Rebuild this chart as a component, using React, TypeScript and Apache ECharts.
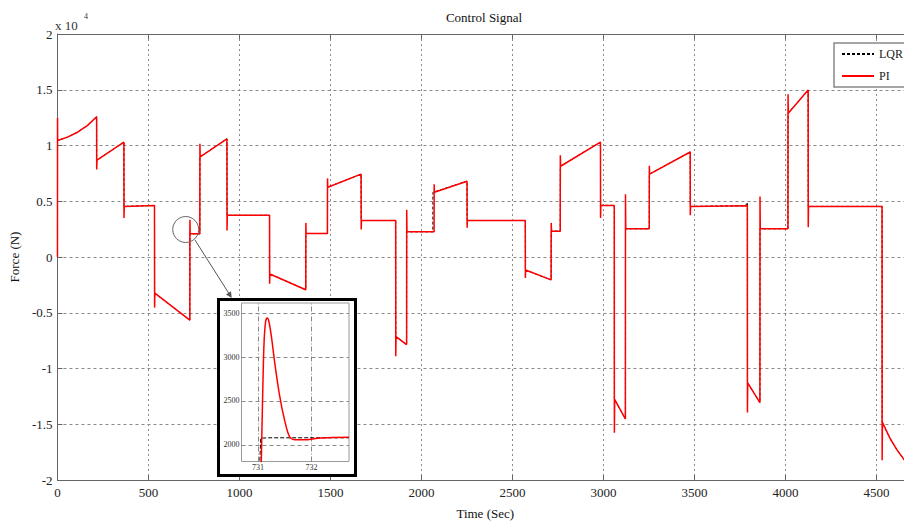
import React, { useEffect, useRef } from "react";
import * as echarts from "echarts";

// ---- Main plot data (time in s, force in N) ----
const TIME_PI = [
  0, 0.3, 1, 55, 110, 164, 215,
  215.5, 217, 365,
  365.5, 367, 533,
  533.5, 535, 727,
  727.5, 729, 782,
  782.5, 784, 931,
  931.5, 933, 1165,
  1165.5, 1167, 1364,
  1364.5, 1366, 1483,
  1483.5, 1485, 1668,
  1668.5, 1670, 1858,
  1858.5, 1860, 1918,
  1918.5, 1920, 2069,
  2069.5, 2071, 2250,
  2250.5, 2252, 2570,
  2570.5, 2572, 2712,
  2712.5, 2714, 2762,
  2762.5, 2764, 2983,
  2983.5, 2985, 3059,
  3059.5, 3061, 3120,
  3120.5, 3122, 3251,
  3251.5, 3253, 3476,
  3476.5, 3478, 3790,
  3790.5, 3792, 3859,
  3859.5, 3861, 4013,
  4013.5, 4015, 4124,
  4124.5, 4126, 4530,
  4530.5, 4532, 4575, 4612, 4652, 4700,
];
const FORCE_PI = [
  0, 12460, 10450, 10750, 11190, 11780, 12580,
  7850, 8680, 10300,
  3500, 4540, 4620,
  -4540, -3240, -5660,
  3350, 2080, 2080,
  10150, 8970, 10600,
  2380, 3740, 3740,
  -2400, -1520, -2940,
  3060, 2110, 2110,
  7050, 6250, 7430,
  2470, 3270, 3270,
  -8900, -7140, -7850,
  4240, 2260, 2260,
  6520, 5800, 6800,
  2620, 3270, 3270,
  -1880, -1170, -2050,
  3060, 2320, 2320,
  9120, 8140, 10300,
  3500, 4630, 4630,
  -15770, -12760, -14530,
  5630, 2530, 2530,
  8180, 7430, 9420,
  3740, 4540, 4600,
  -13940, -11280, -13060,
  5430, 2530, 2530,
  14590, 12900, 14970,
  2680, 4540, 4540,
  -18230, -14830, -16300, -17300, -18200, -19000,
];

const TIME_LQR = [
  0, 0.3, 55, 110, 164, 215,
  215.5, 365, 365.5, 533, 533.5, 727, 727.5, 782, 782.5, 931, 931.5, 1165,
  1165.5, 1364, 1364.5, 1483, 1483.5, 1668, 1668.5, 1858, 1858.5, 1918,
  1918.5, 2062, 2062.5, 2250, 2250.5, 2570, 2570.5, 2712, 2712.5, 2762,
  2762.5, 2983, 2983.5, 3059, 3059.5, 3120, 3120.5, 3251, 3251.5, 3476,
  3476.5, 3780, 3790, 3790.5, 3859, 3859.5, 4013, 4013.5, 4124, 4124.5,
  4530, 4530.5, 4575, 4612, 4652, 4700,
];
const FORCE_LQR = [
  0, 10450, 10750, 11190, 11780, 12580,
  8680, 10300, 4540, 4620, -3240, -5660, 2080, 2080, 8970, 10600, 3740, 3740,
  -1520, -2940, 2110, 2110, 6250, 7430, 3270, 3270, -7140, -7850,
  2260, 2260, 5800, 6800, 3270, 3270, -1170, -2050, 2320, 2320,
  8140, 10300, 4630, 4630, -12760, -14530, 2530, 2530, 7430, 9420,
  4540, 4600, 4900, -11280, -13060, 2530, 2530, 12900, 14970, 4540,
  4540, -14830, -16300, -17300, -18200, -19000,
];

// ---- Inset (zoom around t = 731 s) ----
const INSET_TIME_PI = [731.05, 731.08, 731.11, 731.14, 731.17, 731.2, 731.25, 731.31, 731.4, 731.5, 731.59, 731.69, 731.87, 732.12, 732.4, 732.7];
const INSET_FORCE_PI = [1500, 2400, 3140, 3400, 3445, 3410, 3230, 2940, 2570, 2270, 2090, 2057, 2057, 2076, 2083, 2085];
const INSET_TIME_LQR = [730.98, 731.05, 731.2, 731.6, 732.7];
const INSET_FORCE_LQR = [1000, 2076, 2080, 2080, 2080];

const X_TICKS_MAIN = [0, 500, 1000, 1500, 2000, 2500, 3000, 3500, 4000, 4500];
const INSET_X_TICKS = [731, 732];
const INSET_Y_TICKS = [2000, 2500, 3000, 3500];

const FONT = "'Liberation Serif', 'Times New Roman', serif";

const zip = (a: number[], b: number[]) => a.map((t, i) => [t, b[i]]);

export default function App() {
  const ref = useRef<HTMLDivElement>(null);
  useEffect(() => {
    if (!ref.current) return;
    const chart = echarts.init(ref.current, null, { renderer: "svg" });
    const axisGray = "#666";
    const gridLine = "#8a8a8a";
    const insetMarks: any[] = [
      ...INSET_X_TICKS.map((v) => ({ xAxis: v, lineStyle: { type: [5, 2, 1, 2] } })),
      ...INSET_Y_TICKS.map((v) => ({ yAxis: v })),
    ];
    chart.setOption({
      animation: false,
      textStyle: { fontFamily: FONT },
      grid: [
        { left: 55, top: 34, width: 858, height: 451, show: false },
        {
          left: 241.5, top: 303, width: 107.5, height: 158.5, show: true,
          borderColor: "#9a9a9a", borderWidth: 1, backgroundColor: "rgba(0,0,0,0)", z: 11,
        },
      ],
      legend: {
        data: ["LQR", "PI"],
        left: 834, top: 43, orient: "vertical",
        itemWidth: 32, itemHeight: 12, itemGap: 10,
        padding: [5, 40, 5, 7],
        backgroundColor: "#fff", borderColor: "#888", borderWidth: 1.5,
        itemStyle: { opacity: 0 },
        textStyle: { fontFamily: FONT, fontSize: 12, color: "#222" },
      },
      xAxis: [
        {
          gridIndex: 0, type: "value", min: 0, max: 4700, interval: 500,
          axisLine: { show: true, onZero: false, lineStyle: { color: axisGray } },
          axisTick: { show: true, inside: true, length: 5, lineStyle: { color: axisGray } },
          axisLabel: {
            formatter: (v: number) => (X_TICKS_MAIN.includes(v) ? String(v) : ""),
            color: "#222", fontSize: 13, fontFamily: FONT, margin: 6,
          },
          splitLine: { show: true, lineStyle: { color: gridLine, type: [2, 3] } },
          name: "Time (Sec)", nameLocation: "middle", nameGap: 27,
          nameTextStyle: { fontFamily: FONT, fontSize: 13, color: "#111" },
        },
        {
          gridIndex: 0, type: "value", position: "top", min: 0, max: 4700, interval: 500,
          axisLine: { show: true, onZero: false, lineStyle: { color: axisGray } },
          axisTick: { show: true, inside: true, length: 5, lineStyle: { color: axisGray } },
          axisLabel: { show: false }, splitLine: { show: false },
        },
        {
          gridIndex: 1, type: "value", min: 730.69, max: 732.7, z: 11,
          axisLine: { show: false, onZero: false }, axisTick: { show: false },
          axisLabel: { show: false }, splitLine: { show: false },
        },
      ],
      yAxis: [
        {
          gridIndex: 0, type: "value", min: -20000, max: 20000, interval: 5000,
          axisLine: { show: true, onZero: false, lineStyle: { color: axisGray } },
          axisTick: { show: true, inside: true, length: 5, lineStyle: { color: axisGray } },
          axisLabel: {
            formatter: (v: number) => String(v / 10000),
            color: "#222", fontSize: 13, fontFamily: FONT, margin: 5,
          },
          splitLine: { show: true, lineStyle: { color: gridLine, type: [3, 3] } },
          name: "Force (N)", nameLocation: "middle", nameGap: 35,
          nameTextStyle: { fontFamily: FONT, fontSize: 13, color: "#111" },
        },
        {
          gridIndex: 1, type: "value", min: 1810, max: 3615, z: 11,
          axisLine: { show: false, onZero: false }, axisTick: { show: false },
          axisLabel: { show: false }, splitLine: { show: false },
        },
      ],
      series: [
        {
          name: "LQR", type: "line", xAxisIndex: 0, yAxisIndex: 0, z: 2,
          data: zip(TIME_LQR, FORCE_LQR), symbol: "none",
          itemStyle: { color: "#000" },
          lineStyle: { color: "#000", width: 1, type: [3, 2] },
        },
        {
          name: "PI", type: "line", xAxisIndex: 0, yAxisIndex: 0, z: 3,
          data: zip(TIME_PI, FORCE_PI), symbol: "none",
          itemStyle: { color: "#ff0000" },
          lineStyle: { color: "#ff0000", width: 1.5 },
        },
        {
          name: "LQR inset", type: "line", xAxisIndex: 2, yAxisIndex: 1, z: 12,
          data: zip(INSET_TIME_LQR, INSET_FORCE_LQR), symbol: "none",
          itemStyle: { color: "#000" },
          lineStyle: { color: "#000", width: 1, type: [4, 2] },
          markLine: {
            silent: true, symbol: "none", animation: false, z: 12,
            lineStyle: { color: "#888", width: 1, type: [4, 3] },
            label: { show: true, position: "start", color: "#333", fontSize: 8, fontFamily: FONT, distance: 2 },
            data: insetMarks,
          },
        },
        {
          name: "PI inset", type: "line", xAxisIndex: 2, yAxisIndex: 1, z: 13,
          data: zip(INSET_TIME_PI, INSET_FORCE_PI), symbol: "none", smooth: 0.3,
          itemStyle: { color: "#ff0000" },
          lineStyle: { color: "#ff0000", width: 1.5 },
        },
      ],
      graphic: [
        {
          type: "text", x: 484, y: 17, z: 5,
          style: { text: "Control Signal", fill: "#111", font: `13px ${FONT}`, align: "center", verticalAlign: "middle" },
        },
        {
          type: "text", x: 55, y: 25, z: 5,
          style: { text: "x 10", fill: "#333", font: `13px ${FONT}`, align: "left", verticalAlign: "middle" },
        },
        {
          type: "text", x: 84, y: 16, z: 5,
          style: { text: "4", fill: "#333", font: `8px ${FONT}`, align: "left", verticalAlign: "middle" },
        },
        {
          type: "circle", z: 6, shape: { cx: 185.7, cy: 229.5, r: 13 },
          style: { fill: "none", stroke: "#666", lineWidth: 1 },
        },
        {
          type: "line", z: 6, shape: { x1: 195, y1: 240, x2: 230.5, y2: 296 },
          style: { stroke: "#555", lineWidth: 1 },
        },
        {
          type: "polygon", z: 6,
          shape: { points: [[231.7, 298], [226, 294.5], [231, 291.3]] },
          style: { fill: "#555" },
        },
        {
          type: "rect", z: 10, shape: { x: 218.5, y: 299.5, width: 137, height: 176 },
          style: { fill: "#fff", stroke: "#000", lineWidth: 3 },
        },
      ],
    });
    return () => chart.dispose();
  }, []);
  return (
    <div style={{ position: "fixed", left: 0, top: 0, width: 904, height: 525, overflow: "hidden", background: "#fff" }}>
      <div ref={ref} style={{ width: 960, height: 525 }} />
    </div>
  );
}
